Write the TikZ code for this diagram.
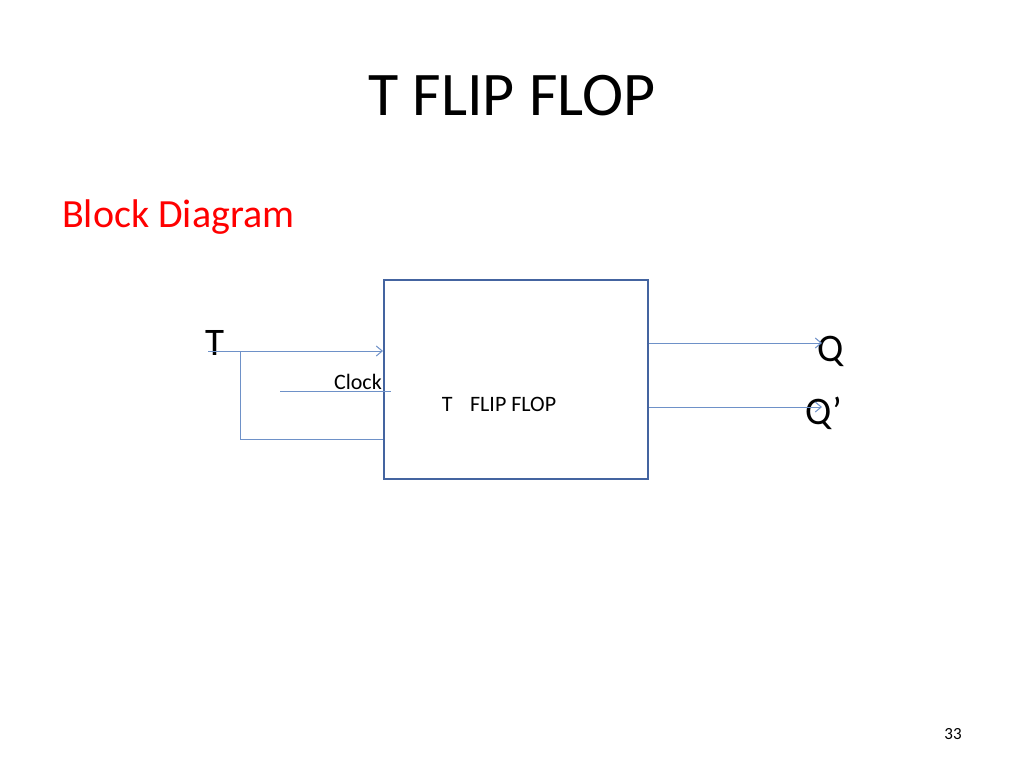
\documentclass[tikz,border=0pt]{standalone}
\usepackage{fontspec}
\setmainfont{Carlito}
\usetikzlibrary{arrows.meta}
\definecolor{boxc}{RGB}{68,100,160}
\definecolor{linec}{RGB}{110,145,200}
\begin{document}
\begin{tikzpicture}[x=1pt,y=-1pt,
  wire/.style={draw=linec,line width=1pt},
  arr/.style={wire,-{Straight Barb[length=6pt,width=10pt]}},
  lbl/.style={inner sep=0pt,anchor=base}]
\useasboundingbox (0,0) rectangle (1024,768);
\node[lbl,font=\fontsize{62}{62}\selectfont] (title) at (512,115) {T FLIP FLOP};
\node[lbl,anchor=base west,text=red,font=\fontsize{40}{40}\selectfont] (bd) at (62,227) {Block Diagram};
\node[draw=boxc,line width=2pt,minimum width=264pt,minimum height=199pt,inner sep=0pt] (ff) at (516,379.5) {};
\node[lbl,font=\fontsize{22}{22}\selectfont] (ffl) at (499,411) {T\hspace{0.8em}FLIP FLOP};
\node[lbl,font=\fontsize{39}{39}\selectfont] (t) at (215,355) {T};
\node[lbl,anchor=base east,font=\fontsize{22}{22}\selectfont] (clk) at (382,389) {Clock};
\node[lbl,font=\fontsize{39}{39}\selectfont] (q) at (831,361) {Q};
\node[lbl,font=\fontsize{39}{39}\selectfont] (qb) at (824,424) {Q’};
\node[lbl,font=\fontsize{17}{17}\selectfont] (pg) at (953,739) {33};
\coordinate (tin) at (208,351);
\coordinate (tj) at (240,351);
\coordinate (tb) at (240,439);
\coordinate (ck) at (280,391);
\draw[arr] (tin) -- (ff.west |- tin);
\draw[wire] (tj) -- (tb) -- (ff.west |- tb);
\draw[wire] (ck) -- ([xshift=8pt]ff.west |- ck);
\coordinate (qe) at (822,343);
\coordinate (qbe) at (822,407);
\draw[arr] (ff.east |- qe) -- (qe);
\draw[arr] (ff.east |- qbe) -- (qbe);
\end{tikzpicture}
\end{document}
